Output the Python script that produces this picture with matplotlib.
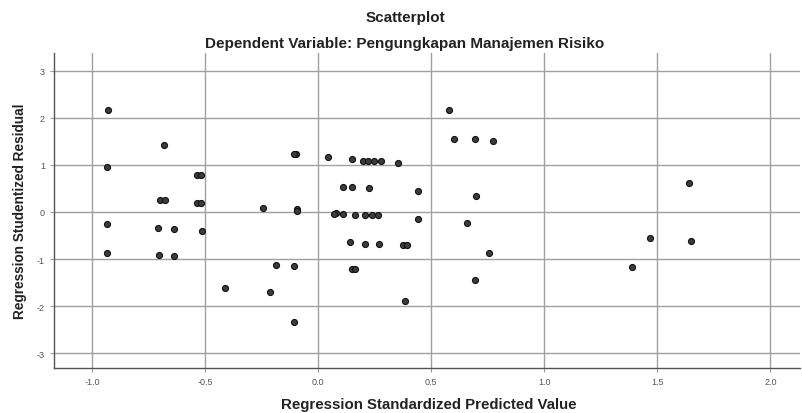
import numpy as np
import matplotlib
matplotlib.use("Agg")
import matplotlib.pyplot as plt

plt.rcParams['font.family'] = ['Liberation Sans', 'DejaVu Sans']
plt.rcParams['axes.unicode_minus'] = False

# predicted (x) and studentized residual (y)
pred = [-0.928, -0.935, -0.935, -0.935,
        -0.682, -0.699, -0.677, -0.707, -0.637, -0.704, -0.637,
        -0.535, -0.520, -0.535, -0.520, -0.515, -0.41,
        -0.242, -0.186, -0.215,
        -0.099, -0.106, -0.094, -0.106, -0.106, -0.094,
        0.043, 0.078, 0.072, 0.109,
        0.152, 0.20, 0.22, 0.245, 0.279, 0.353,
        0.109, 0.149, 0.227, 0.44,
        0.164, 0.208, 0.239, 0.265, 0.44,
        0.139, 0.208, 0.267, 0.375, 0.395,
        0.150, 0.162, 0.385,
        0.577, 0.602, 0.695, 0.773, 0.698, 0.658, 0.757, 0.692,
        1.639, 1.466, 1.65, 1.39]
resid = [2.16, 0.955, -0.255, -0.864,
         1.43, 0.26, 0.26, -0.33, -0.355, -0.92, -0.94,
         0.78, 0.78, 0.19, 0.19, -0.40, -1.61,
         0.09, -1.12, -1.69,
         1.24, 1.24, 0.064, -1.15, -2.34, 0.03,
         1.17, -0.02, -0.04, -0.04,
         1.12, 1.09, 1.09, 1.09, 1.08, 1.05,
         0.54, 0.54, 0.50, 0.45,
         -0.07, -0.07, -0.07, -0.07, -0.14,
         -0.64, -0.67, -0.69, -0.71, -0.71,
         -1.22, -1.22, -1.89,
         2.16, 1.56, 1.54, 1.51, 0.34, -0.24, -0.87, -1.45,
         0.62, -0.55, -0.62, -1.17]

xticks = [-1.0, -0.5, 0.0, 0.5, 1.0, 1.5, 2.0]
yticks = [-3, -2, -1, 0, 1, 2, 3]

fig = plt.figure(figsize=(8.02, 4.14), dpi=100)
ax = fig.add_axes([0.0673, 0.108, 0.930, 0.762])

ax.scatter(pred, resid, s=19, facecolor='#3c3c3c', edgecolor='#111111',
           linewidth=0.8, zorder=3)

ax.set_xlim(-1.168, 2.13)
ax.set_ylim(-3.32, 3.38)
ax.set_xticks(xticks)
ax.set_xticklabels(['%.1f' % v for v in xticks])
ax.set_yticks(yticks)
ax.grid(True, color='#a0a0a0', linewidth=1.0, zorder=0)
ax.tick_params(labelsize=6.5, labelcolor='#555555', color='#a0a0a0', length=3)

for s in ['top', 'right']:
    ax.spines[s].set_visible(False)
for s in ['left', 'bottom']:
    ax.spines[s].set_color('#555555')
    ax.spines[s].set_linewidth(1.0)

ax.set_ylabel('Regression Studentized Residual', fontsize=9.8,
              fontweight='bold', color='#222222', labelpad=7)

fig.text(0.535, 1 - 405 / 414, 'Regression Standardized Predicted Value',
         ha='center', va='center', fontsize=10.8, fontweight='bold', color='#222222')
fig.text(0.505, 1 - 18 / 414, 'Scatterplot', ha='center', va='center',
         fontsize=11, fontweight='bold', color='#222222')
fig.text(0.505, 1 - 44 / 414, 'Dependent Variable: Pengungkapan Manajemen Risiko',
         ha='center', va='center', fontsize=11, fontweight='bold', color='#222222')

fig.savefig('out.png', dpi=100)
